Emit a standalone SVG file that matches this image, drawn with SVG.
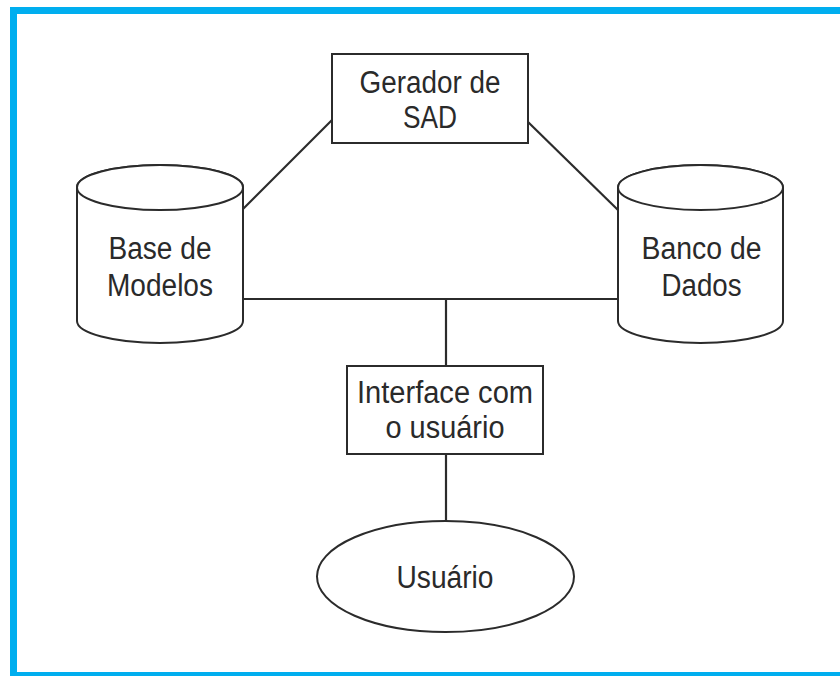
<svg xmlns="http://www.w3.org/2000/svg" width="840" height="676" viewBox="0 0 840 676">
<style>
.s{fill:#fff;stroke:#2b2b2b;stroke-width:2}
.c{fill:none;stroke:#2b2b2b;stroke-width:2.2}
.t{font-family:"Liberation Sans",Arial,sans-serif;font-size:31px;fill:#2a2a2a;text-anchor:middle}
.b{fill:#00aeef}
</style>
<rect x="0" y="0" width="840" height="676" fill="#fff"/>
<rect class="b" x="10" y="7" width="830" height="7"/>
<rect class="b" x="10" y="7" width="7" height="669"/>
<rect class="b" x="10" y="672" width="830" height="4"/>
<g id="connectors">
<line class="c" x1="243" y1="209" x2="332" y2="120"/>
<line class="c" x1="528" y1="122" x2="618" y2="210"/>
<line class="c" x1="243" y1="299" x2="618" y2="299"/>
<line class="c" x1="446" y1="299" x2="446" y2="366"/>
<line class="c" x1="446" y1="454" x2="446" y2="521"/>
</g>
<g id="gerador">
<rect class="s" x="332" y="54" width="196" height="89"/>
<text class="t" x="430" y="93" textLength="141" lengthAdjust="spacingAndGlyphs">Gerador de</text>
<text class="t" x="430" y="128" textLength="54" lengthAdjust="spacingAndGlyphs">SAD</text>
</g>
<g id="base-modelos">
<path class="s" d="M77,187.5 V321 A83,22 0 0 0 243,321 V187.5 A83,22.5 0 0 0 77,187.5 Z"/>
<ellipse class="s" cx="160" cy="187.5" rx="83" ry="22.5"/>
<text class="t" x="160" y="259" textLength="103" lengthAdjust="spacingAndGlyphs">Base de</text>
<text class="t" x="160" y="296" textLength="106" lengthAdjust="spacingAndGlyphs">Modelos</text>
</g>
<g id="banco-dados">
<path class="s" d="M618,187.5 V321 A82.5,22 0 0 0 783,321 V187.5 A82.5,22.5 0 0 0 618,187.5 Z"/>
<ellipse class="s" cx="700.5" cy="187.5" rx="82.5" ry="22.5"/>
<text class="t" x="701.5" y="259" textLength="120" lengthAdjust="spacingAndGlyphs">Banco de</text>
<text class="t" x="701.5" y="296" textLength="80" lengthAdjust="spacingAndGlyphs">Dados</text>
</g>
<g id="interface">
<rect class="s" x="347" y="366" width="196" height="88"/>
<text class="t" x="445" y="403" textLength="176" lengthAdjust="spacingAndGlyphs">Interface com</text>
<text class="t" x="445" y="438" textLength="119" lengthAdjust="spacingAndGlyphs">o usuário</text>
</g>
<g id="usuario">
<ellipse class="s" cx="445.5" cy="576.5" rx="128.5" ry="55.5"/>
<text class="t" x="445" y="588" textLength="97" lengthAdjust="spacingAndGlyphs">Usuário</text>
</g>
</svg>
